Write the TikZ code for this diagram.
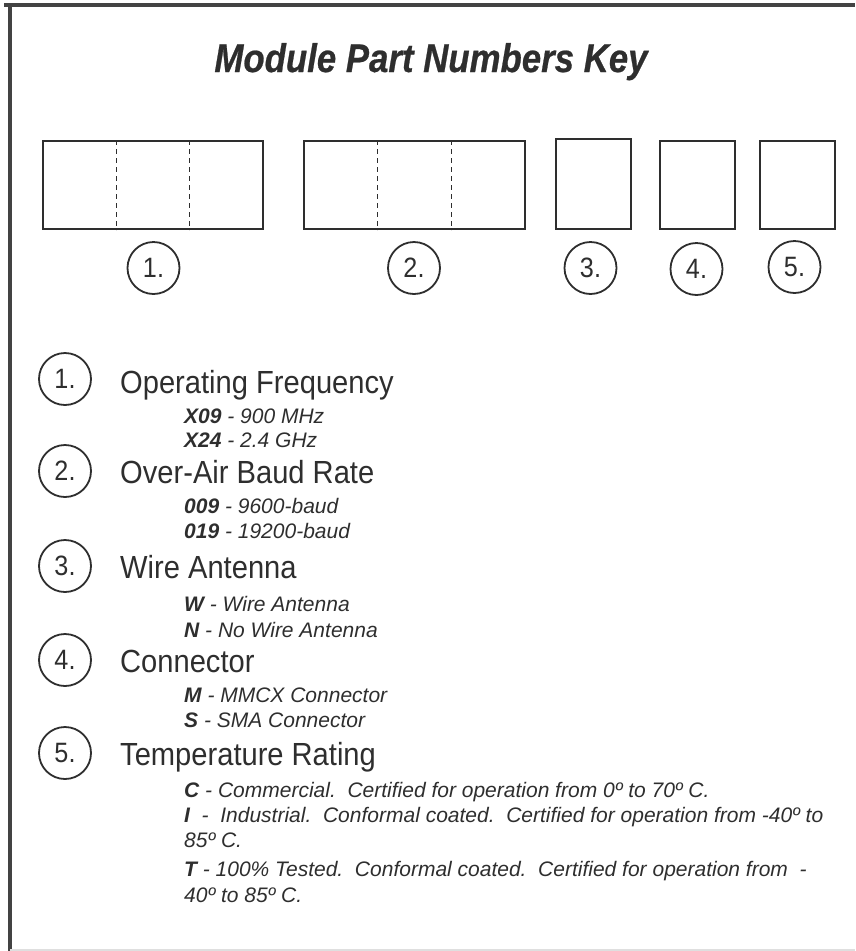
\documentclass[tikz,border=0pt]{standalone}
\usepackage{fontspec}
\setmainfont{Liberation Sans}
\newfontfamily\titlefont[FakeStretch=0.87,FakeBold=0.6]{Liberation Sans}
\newfontfamily\headfont[FakeStretch=0.91]{Liberation Sans}
\newfontfamily\numfont[FakeStretch=0.9]{Liberation Sans}
\usetikzlibrary{calc}
\definecolor{ink}{HTML}{2E2E2E}
\begin{document}
\begin{tikzpicture}[x=1pt,y=-1pt,
        fieldbox/.style={draw=ink,line width=2pt,inner sep=0pt},
        divider/.style={draw=ink,line width=1pt,dash pattern=on 5pt off 4pt},
        numcirc/.style={circle,draw=ink,line width=1.8pt,minimum size=52pt,inner sep=0pt,
            text=ink,font=\numfont\fontsize{28}{28}\selectfont},
        head/.style={anchor=base west,inner sep=0pt,text=ink,font=\headfont\fontsize{32}{32}\selectfont},
        item/.style={anchor=base west,inner sep=0pt,text=ink,font=\itshape\fontsize{21}{21}\selectfont}]
    \useasboundingbox (0,0) rectangle (855,951);

    % frame
    \draw[ink!90,line width=4pt] (4,5) -- (855,5);
    \draw[ink!90,line width=4pt] (10,3) -- (10,951);
    \draw[gray!25,line width=1.5pt] (10,950) -- (855,950);

    \node[text=ink,inner sep=0pt,anchor=base,font=\titlefont\bfseries\itshape\fontsize{40}{40}\selectfont]
        (title) at (431,72) {Module Part Numbers Key};

    % part number fields
    \node[fieldbox,minimum width=220pt,minimum height=88pt] (f1) at (153,185) {};
    \node[fieldbox,minimum width=221pt,minimum height=88pt] (f2) at (414.5,185) {};
    \node[fieldbox,minimum width=75pt,minimum height=90pt] (f3) at (593.5,184) {};
    \node[fieldbox,minimum width=75pt,minimum height=88pt] (f4) at (697.5,185) {};
    \node[fieldbox,minimum width=75pt,minimum height=88pt] (f5) at (797.5,185) {};
    \draw[divider] ($(f1.north west)!1/3!(f1.north east)$) -- ($(f1.south west)!1/3!(f1.south east)$);
    \draw[divider] ($(f1.north west)!2/3!(f1.north east)$) -- ($(f1.south west)!2/3!(f1.south east)$);
    \draw[divider] ($(f2.north west)!1/3!(f2.north east)$) -- ($(f2.south west)!1/3!(f2.south east)$);
    \draw[divider] ($(f2.north west)!2/3!(f2.north east)$) -- ($(f2.south west)!2/3!(f2.south east)$);

    \node[numcirc] (n1) at (153.5,268) {1.};
    \node[numcirc] (n2) at (414,268) {2.};
    \node[numcirc] (n3) at (590.5,268) {3.};
    \node[numcirc] (n4) at (696.5,269) {4.};
    \node[numcirc] (n5) at (794.5,267) {5.};

    % key
    \node[numcirc] (k1) at (65,379) {1.};
    \node[head] (h1) at (120,393) {Operating Frequency};
    \node[item] (i11) at (184,423) {\textbf{X09} - 900 MHz};
    \node[item] (i12) at (184,447) {\textbf{X24} - 2.4 GHz};

    \node[numcirc] (k2) at (65,471) {2.};
    \node[head] (h2) at (120,483) {Over-Air Baud Rate};
    \node[item] (i21) at (184,513) {\textbf{009} - 9600-baud};
    \node[item] (i22) at (184,538) {\textbf{019} - 19200-baud};

    \node[numcirc] (k3) at (65,566) {3.};
    \node[head] (h3) at (120,578) {Wire Antenna};
    \node[item] (i31) at (184,611) {\textbf{W} - Wire Antenna};
    \node[item] (i32) at (184,637) {\textbf{N} - No Wire Antenna};

    \node[numcirc] (k4) at (65,660) {4.};
    \node[head] (h4) at (120,672) {Connector};
    \node[item] (i41) at (184,702) {\textbf{M} - MMCX Connector};
    \node[item] (i42) at (184,727) {\textbf{S} - SMA Connector};

    \node[numcirc] (k5) at (65,753) {5.};
    \node[head] (h5) at (120,765) {Temperature Rating};
    \node[item] (i51) at (184,797) {\textbf{C} - Commercial.\ \ Certified for operation from 0º to 70º C.};
    \node[item] (i52) at (184,822) {\textbf{I}\ \ -\ \ Industrial.\ \ Conformal coated.\ \ Certified for operation from -40º to};
    \node[item] (i53) at (184,847) {85º C.};
    \node[item] (i54) at (184,876) {\textbf{T} - 100\% Tested.\ \ Conformal coated.\ \ Certified for operation from\ \ -};
    \node[item] (i55) at (184,902) {40º to 85º C.};
\end{tikzpicture}
\end{document}
